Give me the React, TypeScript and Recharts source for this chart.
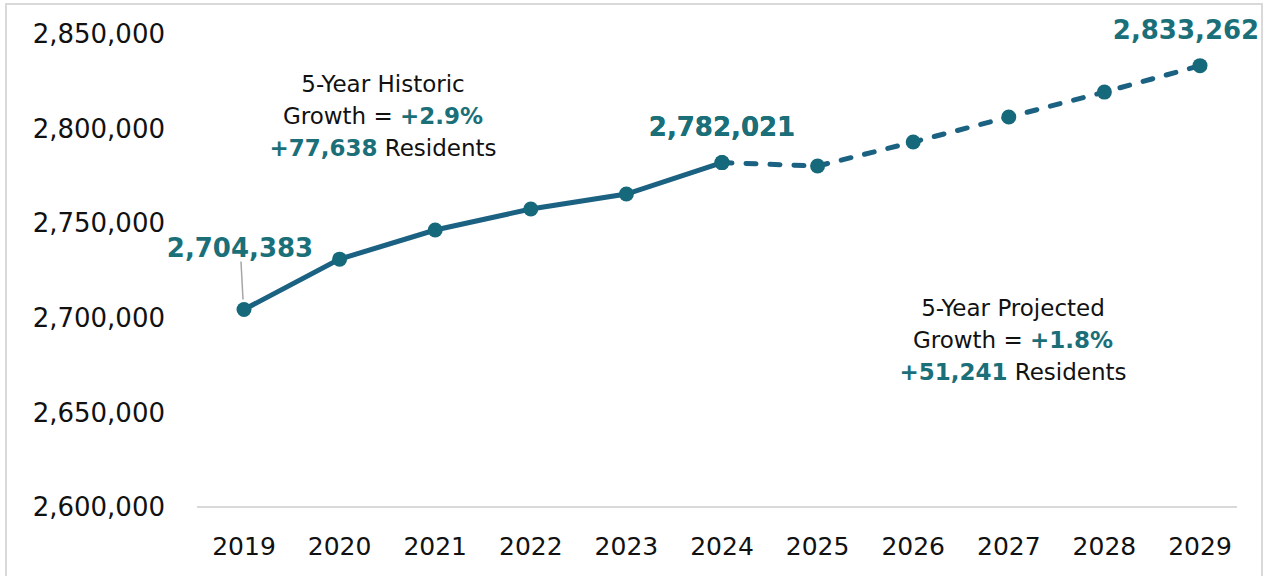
import React from "react"
import { LineChart, Line, XAxis, YAxis, LabelList } from "recharts"

const years = ["2019", "2020", "2021", "2022", "2023", "2024", "2025", "2026", "2027", "2028", "2029"]
const population = [2704383, 2731000, 2746400, 2757500, 2765400, 2782021, 2780200, 2792900, 2806100, 2819300, 2833262]
const lastHistoricIndex = 5
const yTicks = [2600000, 2650000, 2700000, 2750000, 2800000, 2850000]
const labelledPoints = [0, 5, 10]

const historicNote = { title: "5-Year Historic", pct: "+2.9%", residents: "+77,638" }
const projectedNote = { title: "5-Year Projected", pct: "+1.8%", residents: "+51,241" }

const LINE = "#1b6182"
const DOT = "#15697a"
const TEAL = "#1a6f78"
const FONT = "'DejaVu Sans', sans-serif"

const data = years.map((year, i) => ({
    year,
    historic: i <= lastHistoricIndex ? population[i] : null,
    projected: i >= lastHistoricIndex ? population[i] : null,
}))

const fmt = (v: number) => v.toLocaleString("en-US")

const PointLabel = (props: any) => {
    const { x, y, index, value } = props
    if (value == null || !labelledPoints.includes(index)) return null
    let dx = 0
    let dy = -36
    let leader = null
    if (index === 0) {
        dx = -4
        dy = -62
        leader = <line x1={x - 3} y1={y - 48} x2={x - 1} y2={y - 10} stroke="#a6a6a6" strokeWidth={1.5} />
    }
    if (index === 10) dx = -14
    return (
        <g>
            {leader}
            <text x={x + dx} y={y + dy} textAnchor="middle" dominantBaseline="central" fill={TEAL} fontSize={26} fontWeight="bold" fontFamily={FONT}>
                {fmt(value)}
            </text>
        </g>
    )
}

const Note = ({ note, left, top }: { note: typeof historicNote; left: number; top: number }) => (
    <div style={{ position: "absolute", left, top, width: 360, textAlign: "center", fontFamily: FONT, fontSize: 23, lineHeight: "32px", color: "#111" }}>
        <div>{note.title}</div>
        <div>
            Growth = <b style={{ color: TEAL }}>{note.pct}</b>
        </div>
        <div>
            <b style={{ color: TEAL }}>{note.residents}</b> Residents
        </div>
    </div>
)

export default function App() {
    return (
        <div style={{ position: "absolute", left: 0, top: 0, width: 1266, height: 576, overflow: "hidden", background: "#fff" }}>
            <div style={{ position: "absolute", left: 5, top: 3, width: 1254, height: 620, border: "2px solid #d9d9d9" }} />
            <LineChart width={1266} height={576} data={data} margin={{ top: 34, right: 29, bottom: 0, left: 0 }}>
                <XAxis
                    dataKey="year"
                    height={69}
                    padding={{ left: 47, right: 37 }}
                    axisLine={{ stroke: "#d9d9d9", strokeWidth: 2 }}
                    tickLine={false}
                    tickSize={0}
                    tickMargin={30}
                    tick={{ fill: "#111", fontSize: 25, fontFamily: FONT }}
                    interval={0}
                />
                <YAxis
                    width={197}
                    domain={[2600000, 2850000]}
                    ticks={yTicks}
                    tickFormatter={fmt}
                    axisLine={false}
                    tickLine={false}
                    tickSize={0}
                    tickMargin={32}
                    tick={{ fill: "#111", fontSize: 26, fontFamily: FONT }}
                />
                <Line
                    dataKey="historic"
                    stroke={LINE}
                    strokeWidth={5}
                    dot={{ r: 7.5, fill: DOT, stroke: DOT, strokeWidth: 0 }}
                    activeDot={false}
                    isAnimationActive={false}
                    connectNulls={false}
                >
                    <LabelList dataKey="historic" content={PointLabel} />
                </Line>
                <Line
                    dataKey="projected"
                    stroke={LINE}
                    strokeWidth={5}
                    strokeDasharray="10 14"
                    strokeLinecap="round"
                    dot={{ r: 7.5, fill: DOT, stroke: DOT, strokeWidth: 0, strokeDasharray: "0" }}
                    activeDot={false}
                    isAnimationActive={false}
                    connectNulls={false}
                >
                    <LabelList dataKey="projected" content={PointLabel} />
                </Line>
            </LineChart>
            <Note note={historicNote} left={203} top={68} />
            <Note note={projectedNote} left={833} top={292} />
        </div>
    )
}
